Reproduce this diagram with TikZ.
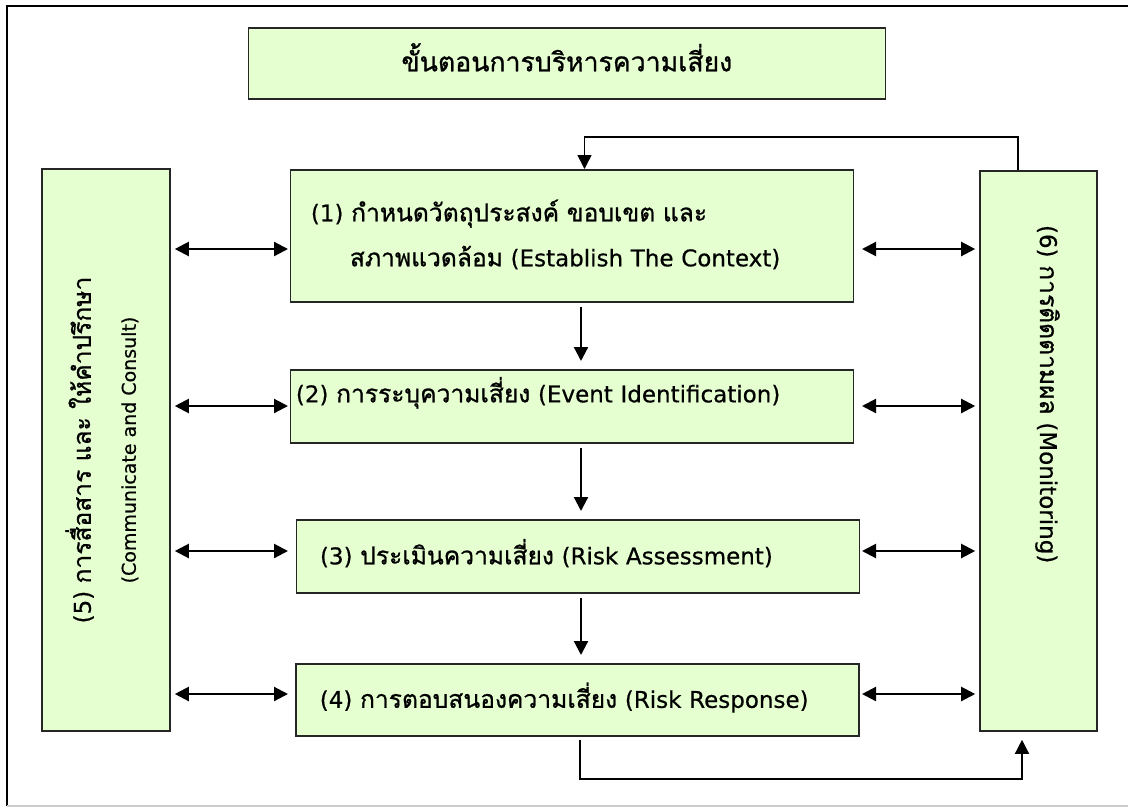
\documentclass[tikz,border=0pt]{standalone}
\usepackage{fontspec}
\setmainfont{DejaVu Sans}[FakeBold=0.5]
\newfontfamily\thaifont[Script=Thai,Scale=1.07,FakeBold=0.9]{Loma}
\newcommand{\thtext}[1]{{\thaifont #1}}
\usetikzlibrary{arrows.meta, positioning, calc}
\definecolor{riskgreen}{RGB}{229,255,209}
\tikzset{stepbox/.style={draw=black!85,line width=1.6pt,fill=riskgreen,anchor=north west,
        align=left,inner ysep=0pt,text height=22pt,text depth=6pt,font=\fontsize{23pt}{45pt}\selectfont},
    sidebox/.style={stepbox,anchor=center,align=center},
    link/.style={line width=2.2pt,-{Triangle[length=14pt,width=14pt]}},
    twoway/.style={line width=2.2pt,{Triangle[length=14pt,width=14pt]}-{Triangle[length=14pt,width=14pt]}},
    loopline/.style={line width=1.5pt,-{Triangle[length=14pt,width=14pt]}}}

\begin{document}
\begin{tikzpicture}[x=1pt,y=-1pt]
    \useasboundingbox (0,0) rectangle (1128,807);
    % frame
    \draw[line width=2pt] (1128,6) -- (6.5,6) -- (6.5,806);
    \draw[line width=1.5pt,black!20] (6.5,806) -- (1128,806);

    \node[stepbox,align=center,minimum width=637pt,minimum height=71pt,font=\fontsize{24.9pt}{28pt}\selectfont] (title) at (247.5,27)
        {\thtext{ขั้นตอนการบริหารความเสี่ยง}};

    \node[stepbox,minimum width=563pt,minimum height=132pt,inner xsep=20.4pt,text width=522pt,text depth=51pt] (ctx) at (289.6,169)
        {(1) \thtext{กำหนดวัตถุประสงค์ ขอบเขต และ}\\\hspace*{39pt}\thtext{สภาพแวดล้อม} (Establish The Context)};
    \node[stepbox,minimum width=563pt,minimum height=73pt,inner xsep=5.4pt,text width=552pt,text height=16pt,text depth=24pt] (ident) at (289.6,369)
        {(2) \thtext{การระบุความเสี่ยง} (Event Identification)};
    \node[stepbox,minimum width=563pt,minimum height=73pt,inner xsep=23.3pt,text width=516pt] (assess) at (295.7,519)
        {(3) \thtext{ประเมินความเสี่ยง} (Risk Assessment)};
    \node[stepbox,minimum width=563pt,minimum height=72pt,inner xsep=24pt,text width=515pt] (resp) at (295,663)
        {(4) \thtext{การตอบสนองความเสี่ยง} (Risk Response)};

    \node[sidebox,rotate=90,minimum width=562pt,minimum height=128pt,text height=67pt,text depth=7.5pt] (comm) at (106,450)
        {(5) \thtext{การสื่อสาร และ ให้คำปรึกษา}\\{\fontsize{19pt}{45pt}\selectfont(Communicate and Consult)}};
    \node[sidebox,rotate=-90,align=left,minimum width=560pt,minimum height=117pt,inner xsep=54pt,text width=452pt,text height=18pt,text depth=21pt] (mon) at (1038.5,451)
        {(6) \thtext{การติดตามผล} (Monitoring)};

    % arrow columns
    \coordinate (midx) at (581,0);
    \coordinate (lx) at (288,0);
    \coordinate (rx) at (862,0);
    \coordinate (fbL) at (584.5,137);
    \coordinate (fbR) at (1018,137);
    \coordinate (bL) at (580,779);
    \coordinate (bR) at (1022,779);

    \foreach \source/\dest in {ctx/ident, ident/assess, assess/resp}
        \draw[link,shorten <=4pt,shorten >=8pt] (\source.south -| midx) -- (\dest.north -| midx);

    \foreach \name/\ypos in {ctx/249, ident/406, assess/551, resp/694}{
        \coordinate (h\name) at (0,\ypos);
        \draw[twoway,shorten <=4pt] (comm.south |- h\name) -- (lx |- h\name);
        \draw[twoway,shorten >=4pt] (rx |- h\name) -- (mon.south |- h\name);
    }

    \draw[loopline] (fbR |- mon.west) -- (fbR) -- (fbL) -- (fbL |- ctx.north);
    \draw[loopline,shorten <=3pt,shorten >=8pt] (bL |- resp.south) -- (bL) -- (bR) -- (bR |- mon.east);
\end{tikzpicture}
\end{document}
